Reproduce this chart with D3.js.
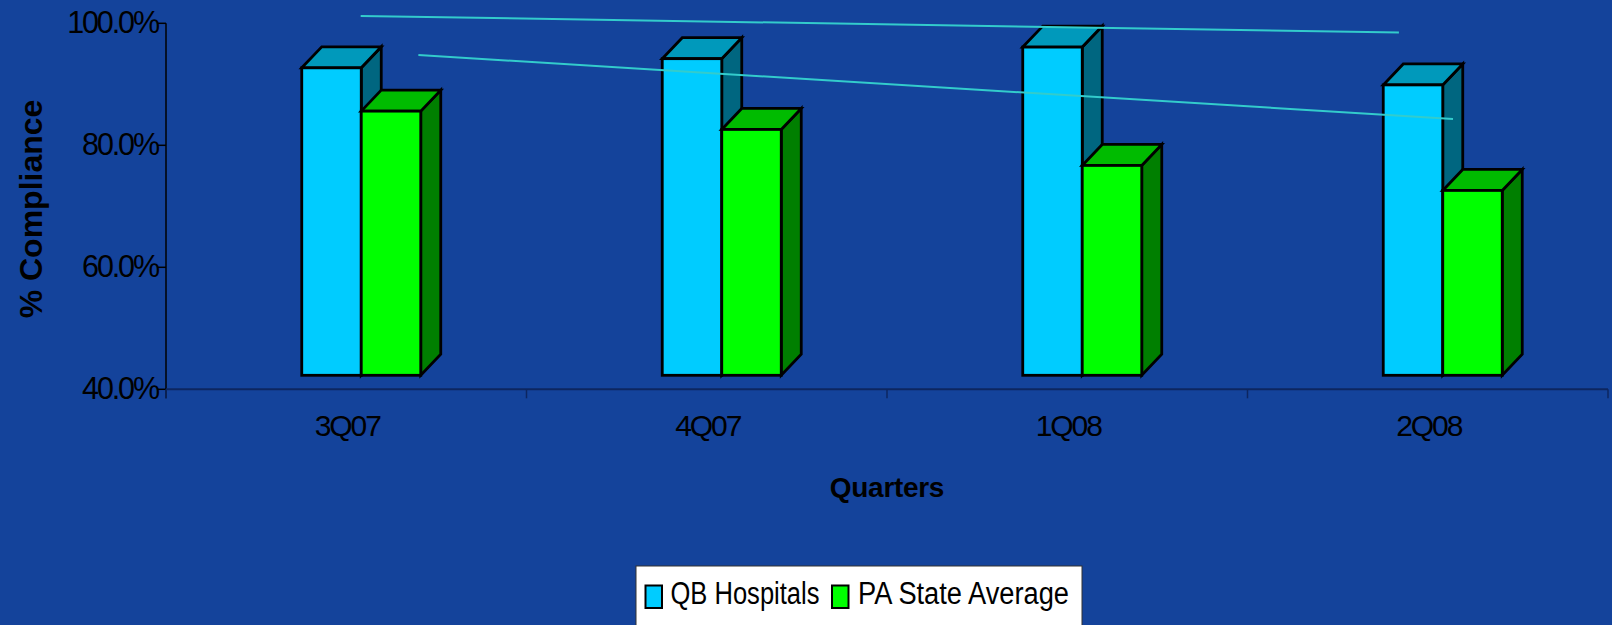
<!DOCTYPE html>
<html>
<head>
<meta charset="utf-8">
<script src="https://cdn.jsdelivr.net/npm/d3@7"></script>
<style>
  html, body { margin: 0; padding: 0; background: #14439b; }
  svg { display: block; }
  text { font-family: "Liberation Sans", Arial, sans-serif; }
</style>
</head>
<body>
<svg id="chart" width="1612" height="625"></svg>
<script>
// ---- Data ----
const categories = ["3Q07", "4Q07", "1Q08", "2Q08"];
const seriesNames = ["QB Hospitals", "PA State Average"];
const qbHospitals = [92.7, 94.2, 96.1, 89.9];
const paStateAverage = [85.6, 82.6, 76.7, 72.6];
const yTicks = [40, 60, 80, 100];
const yTickLabels = ["40.0%", "60.0%", "80.0%", "100.0%"];
// trend lines (positions in category-index units, values in %)
const trendQBPos = [0.04, 2.92];
const trendQBVal = [101.2, 98.5];
const trendPAPos = [0.20, 3.07];
const trendPAVal = [94.8, 84.3];

// ---- Layout ----
const W = 1612, H = 625;
const plot = { left: 166, right: 1608, top: 23.3, bottom: 389.3 };
const svg = d3.select("#chart");

svg.append("rect").attr("width", W).attr("height", H).attr("fill", "#14439b");

const x = d3.scaleBand().domain(categories).range([plot.left, plot.right]).padding(0);
const y = d3.scaleLinear().domain([40, 100]).range([plot.bottom, plot.top]);
const xIdx = d3.scaleLinear().domain([0, categories.length - 1])
  .range([x(categories[0]) + x.bandwidth() / 2, x(categories[categories.length - 1]) + x.bandwidth() / 2]);

const barW = 59.5, depthX = 20, depthY = 21;
const frontOffset = -44.5;        // blue front-left from band centre
const floorY = y(40) - 14;        // front bottom edge of the bars

const styles = [
  { front: "#00ccff", top: "#0099bb", side: "#006680" },
  { front: "#00ff00", top: "#00bb00", side: "#007f00" }
];
const seriesData = [qbHospitals, paStateAverage];

// ---- Axes ----
svg.append("line").attr("x1", plot.left).attr("x2", plot.left)
  .attr("y1", plot.top).attr("y2", plot.bottom + 9)
  .attr("stroke", "#000").attr("stroke-width", 1.5);
svg.append("line").attr("x1", plot.left).attr("x2", plot.right)
  .attr("y1", plot.bottom).attr("y2", plot.bottom)
  .attr("stroke", "#0d2660").attr("stroke-width", 2);

const yAxisG = svg.append("g");
yTicks.forEach((t, i) => {
  yAxisG.append("line").attr("x1", plot.left - 9).attr("x2", plot.left)
    .attr("y1", y(t)).attr("y2", y(t)).attr("stroke", "#000").attr("stroke-width", 1.5);
  yAxisG.append("text").attr("x", plot.left - 8).attr("y", y(t) + 9.5)
    .attr("text-anchor", "end").attr("font-size", 30.5)
    .attr("letter-spacing", "-2.1px").attr("fill", "#000")
    .text(yTickLabels[i]);
});

const bounds = categories.map(c => x(c)).concat([plot.right]);
bounds.forEach(b => {
  svg.append("line").attr("x1", b).attr("x2", b)
    .attr("y1", plot.bottom).attr("y2", plot.bottom + 9)
    .attr("stroke", "#0d2660").attr("stroke-width", 1.5);
});
categories.forEach(c => {
  svg.append("text").attr("x", x(c) + x.bandwidth() / 2 + 1).attr("y", 435.5)
    .attr("text-anchor", "middle").attr("font-size", 30)
    .attr("letter-spacing", "-2.1px").attr("fill", "#000").text(c);
});

svg.append("text").attr("transform", "translate(41.5,209) rotate(-90)")
  .attr("text-anchor", "middle").attr("font-size", 32).attr("font-weight", "bold")
  .attr("fill", "#000").text("% Compliance");
svg.append("text").attr("x", 887).attr("y", 496.5)
  .attr("text-anchor", "middle").attr("font-size", 28).attr("font-weight", "bold")
  .attr("letter-spacing", "-0.3px").attr("fill", "#000").text("Quarters");

// ---- 3D bars ----
const barsG = svg.append("g");
categories.forEach((c, ci) => {
  const cx = x(c) + x.bandwidth() / 2;
  seriesData.forEach((vals, si) => {
    const x0 = cx + frontOffset + si * barW;
    const x1 = x0 + barW;
    const yt = y(vals[ci]);
    const st = styles[si];
    const g = barsG.append("g").attr("stroke", "#000").attr("stroke-width", 2.8)
      .attr("stroke-linejoin", "miter");
    g.append("path").attr("fill", st.side)
      .attr("d", `M${x1},${yt}L${x1 + depthX},${yt - depthY}L${x1 + depthX},${floorY - depthY}L${x1},${floorY}Z`);
    g.append("path").attr("fill", st.top)
      .attr("d", `M${x0},${yt}L${x0 + depthX},${yt - depthY}L${x1 + depthX},${yt - depthY}L${x1},${yt}Z`);
    g.append("rect").attr("x", x0).attr("y", yt).attr("width", barW).attr("height", floorY - yt)
      .attr("fill", st.front);
  });
});

// ---- Trend lines ----
const line = d3.line().x(d => xIdx(d[0])).y(d => y(d[1]));
[[trendQBPos, trendQBVal], [trendPAPos, trendPAVal]].forEach(([p, v]) => {
  svg.append("path").datum(p.map((pp, i) => [pp, v[i]]))
    .attr("d", line).attr("fill", "none")
    .attr("stroke", "#33cccc").attr("stroke-width", 2);
});

// ---- Legend ----
const lg = svg.append("g");
lg.append("rect").attr("x", 636).attr("y", 566).attr("width", 446).attr("height", 80)
  .attr("fill", "#fff").attr("stroke", "#333").attr("stroke-width", 1);
const legendItems = [
  { sw: 645.5, tx: 670.5, len: 149 },
  { sw: 832, tx: 858, len: 211 }
];
seriesNames.forEach((n, i) => {
  lg.append("rect").attr("x", legendItems[i].sw).attr("y", 585.5).attr("width", 16.5).attr("height", 22.5)
    .attr("fill", styles[i].front).attr("stroke", "#000").attr("stroke-width", 2);
  lg.append("text").attr("x", legendItems[i].tx).attr("y", 604)
    .attr("font-size", 31).attr("textLength", legendItems[i].len)
    .attr("lengthAdjust", "spacingAndGlyphs").attr("fill", "#000").text(n);
});
</script>
</body>
</html>
